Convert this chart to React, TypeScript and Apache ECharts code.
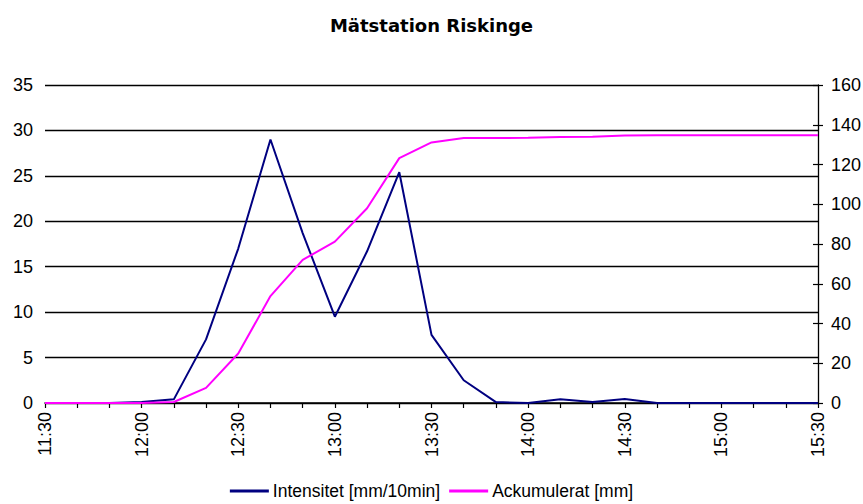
import React, { useEffect, useRef } from "react";
import * as echarts from "echarts";

const times = [
  "11:30", "11:40", "11:50", "12:00", "12:10", "12:20", "12:30", "12:40", "12:50",
  "13:00", "13:10", "13:20", "13:30", "13:40", "13:50", "14:00", "14:10", "14:20",
  "14:30", "14:40", "14:50", "15:00", "15:10", "15:20", "15:30",
];
const intensitet = [
  0, 0, 0, 0.1, 0.4, 7.0, 17.0, 29.0, 18.7, 9.5, 16.7, 25.4, 7.5, 2.5, 0.1, 0, 0.4,
  0.1, 0.45, 0, 0, 0, 0, 0, 0,
];
const ackumulerat = [
  0, 0, 0, 0, 0.5, 7.6, 24.9, 53.8, 72, 81.2, 98, 123.2, 131.1, 133.3, 133.3, 133.4,
  133.8, 134, 134.6, 134.7, 134.7, 134.7, 134.7, 134.7, 134.7,
];
const seriesNames = ["Intensitet [mm/10min]", "Ackumulerat [mm]"];
const titleText = "Mätstation Riskinge";

export default function App() {
  const ref = useRef<HTMLDivElement>(null);
  useEffect(() => {
    if (!ref.current) return;
    const chart = echarts.init(ref.current, undefined, { renderer: "svg" });
    const font = "'Liberation Sans', Arial, sans-serif";
    chart.setOption({
      animation: false,
      backgroundColor: "#ffffff",
      textStyle: { fontFamily: font },
      title: {
        text: titleText,
        left: "center",
        top: 11,
        textStyle: {
          fontFamily: "'DejaVu Sans', sans-serif",
          fontSize: 18,
          fontWeight: "bold",
          color: "#000",
        },
      },
      legend: {
        data: seriesNames,
        top: 478,
        left: "center",
        padding: [4, 5, 2, 5],
        icon: "rect",
        itemWidth: 39,
        itemHeight: 3,
        itemGap: 9,
        textStyle: {
          fontFamily: font,
          fontSize: 17.5,
          lineHeight: 18,
          color: "#000",
          padding: [0, 0, 0, -1],
        },
      },
      grid: {
        left: 45,
        right: 45,
        top: 85,
        bottom: 101,
        containLabel: false,
        outerBoundsMode: "none",
      },
      xAxis: {
        type: "category",
        data: times,
        boundaryGap: false,
        axisLine: { show: true, lineStyle: { color: "#000", width: 1.5 } },
        axisTick: { show: true, interval: 0, length: 5, lineStyle: { color: "#000", width: 1.2 } },
        axisLabel: {
          interval: 2,
          rotate: 90,
          margin: 9,
          fontFamily: font,
          fontSize: 18,
          color: "#000",
        },
        splitLine: { show: false },
      },
      yAxis: [
        {
          type: "value",
          min: 0,
          max: 35,
          interval: 5,
          position: "left",
          axisLine: { show: false },
          axisTick: { show: false },
          axisLabel: { margin: 12, fontFamily: font, fontSize: 18, color: "#000" },
          splitLine: { show: true, lineStyle: { color: "#000", width: 1.3 } },
        },
        {
          type: "value",
          min: 0,
          max: 160,
          interval: 20,
          position: "right",
          axisLine: { show: true, lineStyle: { color: "#000", width: 1.3 } },
          axisTick: { show: true, length: 5, lineStyle: { color: "#000", width: 1.2 } },
          axisLabel: { margin: 13, fontFamily: font, fontSize: 18, color: "#000" },
          splitLine: { show: false },
        },
        {
          type: "value",
          min: 0,
          max: 160,
          interval: 20,
          position: "right",
          axisLine: { show: false },
          axisTick: { show: true, inside: true, length: 5, lineStyle: { color: "#000", width: 1.2 } },
          axisLabel: { show: false },
          splitLine: { show: false },
        },
      ],
      series: [
        {
          name: seriesNames[0],
          type: "line",
          data: intensitet,
          yAxisIndex: 0,
          symbol: "none",
          lineStyle: { color: "#000080", width: 2 },
          itemStyle: { color: "#000080" },
        },
        {
          name: seriesNames[1],
          type: "line",
          data: ackumulerat,
          yAxisIndex: 1,
          symbol: "none",
          lineStyle: { color: "#ff00ff", width: 2 },
          itemStyle: { color: "#ff00ff" },
        },
      ],
    });
    return () => chart.dispose();
  }, []);
  return (
    <div
      ref={ref}
      style={{ position: "absolute", left: 0, top: 0, width: 863, height: 504 }}
    />
  );
}
